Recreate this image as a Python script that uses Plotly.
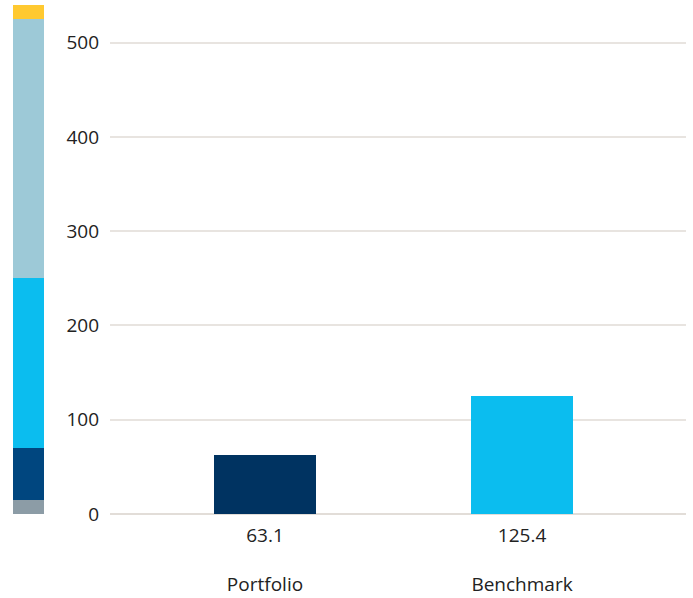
import plotly.graph_objects as go

# Bar chart data
categories = ["Portfolio", "Benchmark"]
values = [63.1, 125.4]
bar_colors = ["#003361", "#0bbdef"]

# Reference scale band: segment bounds and colours (bottom to top)
band_bounds = [0, 15, 70, 250, 525, 540]
band_colors = ["#8c9ca6", "#00467f", "#0bbdef", "#9dc9d7", "#ffc930"]

y_ticks = [0, 100, 200, 300, 400, 500]

W, H = 693, 598
ml, mr, mt, mb = 0, 7, 5, 84
pw = W - ml - mr

fig = go.Figure()

# Scale band as stacked segments on its own narrow x axis
for lo, hi, col in zip(band_bounds[:-1], band_bounds[1:], band_colors):
    fig.add_trace(go.Bar(
        x=[0], y=[hi - lo], base=[lo], width=1,
        marker=dict(color=col, line=dict(width=0)),
        xaxis="x2", yaxis="y2", hoverinfo="skip", showlegend=False,
    ))

# Main bars
tick_text = [f"{v:g}<br><br>{c}" for c, v in zip(categories, values)]
fig.add_trace(go.Bar(
    x=categories, y=values, width=0.4,
    marker=dict(color=bar_colors, line=dict(width=0)),
    hoverinfo="skip", showlegend=False,
))

font = dict(family="Open Sans, Lato, sans-serif", size=19, color="#222222")

fig.update_layout(
    width=W, height=H,
    margin=dict(l=ml, r=mr, t=mt, b=mb),
    paper_bgcolor="white", plot_bgcolor="white",
    font=font,
    barmode="overlay",
    bargap=0,
    xaxis=dict(
        domain=[110 / pw, 1],
        range=[-0.603, 1.638],
        tickmode="array", tickvals=categories, ticktext=tick_text,
        showgrid=False, zeroline=False, showline=False, ticks="",
        ticklabelstandoff=8,
        tickfont=font,
    ),
    yaxis=dict(
        range=[0, 540],
        tickmode="array", tickvals=y_ticks,
        showgrid=True, gridcolor="#e8e4e0", gridwidth=1.5,
        zeroline=True, zerolinecolor="#e2ddd8", zerolinewidth=2,
        showline=False, ticks="", ticklabelstandoff=10,
        tickfont=font,
    ),
    xaxis2=dict(
        domain=[13 / pw, 44 / pw], range=[-0.5, 0.5], anchor="y2",
        showgrid=False, zeroline=False, showticklabels=False, showline=False,
    ),
    yaxis2=dict(
        anchor="x2", matches="y",
        showgrid=False, zeroline=False, showticklabels=False, showline=False,
    ),
)

fig.write_html("out.html")
